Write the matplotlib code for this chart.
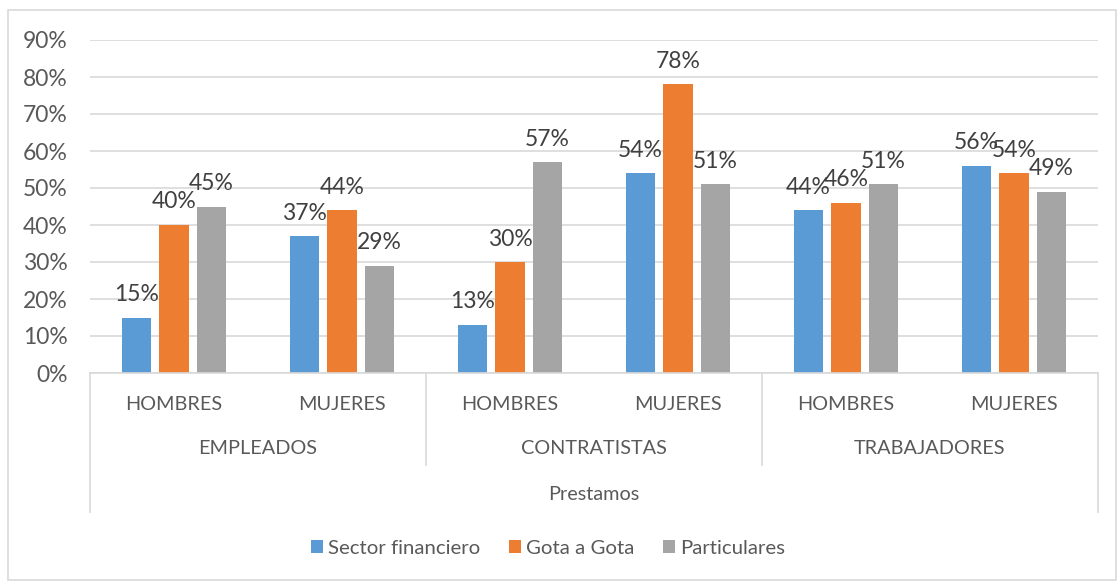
import numpy as np
import matplotlib
matplotlib.use("Agg")
import matplotlib.pyplot as plt
from matplotlib.patches import Rectangle

plt.rcParams['font.family'] = ['Lato', 'DejaVu Sans']

# datos
generos = ["HOMBRES", "MUJERES", "HOMBRES", "MUJERES", "HOMBRES", "MUJERES"]
grupos = ["EMPLEADOS", "CONTRATISTAS", "TRABAJADORES"]
titulo_eje = "Prestamos"
series = ["Sector financiero", "Gota a Gota", "Particulares"]
sector_financiero = [0.15, 0.37, 0.13, 0.54, 0.44, 0.56]
gota_a_gota = [0.40, 0.44, 0.30, 0.78, 0.46, 0.54]
particulares = [0.45, 0.29, 0.57, 0.51, 0.51, 0.49]
yticks = [0, 0.1, 0.2, 0.3, 0.4, 0.5, 0.6, 0.7, 0.8, 0.9]

colores = ["#5B9BD5", "#ED7D31", "#A5A5A5"]
gris_txt = "#595959"
gris_lin = "#D9D9D9"

W, H = 1117, 582
fig = plt.figure(figsize=(W / 100, H / 100), dpi=100)
# plot area en pixeles: x 90..1098, y 40..373
ax = fig.add_axes([90 / W, (H - 373) / H, (1098 - 90) / W, (373 - 40) / H])

x = np.arange(len(generos))
ancho = 0.173
paso = 0.223
valores = [sector_financiero, gota_a_gota, particulares]
for i, vals in enumerate(valores):
    pos = x + (i - 1) * paso
    barras = ax.bar(pos, vals, ancho, color=colores[i], label=series[i], zorder=3)
    for b, v in zip(barras, vals):
        ax.annotate(f"{round(v * 100)}%", (b.get_x() + b.get_width() / 2, v),
                    xytext=(0, 9), textcoords="offset points",
                    ha="center", va="bottom", fontsize=16.5, color="#404040")

ax.set_xlim(-0.5, len(generos) - 0.5)
ax.set_ylim(0, 0.9)
ax.set_yticks(yticks)
ax.set_yticklabels([f"{int(round(t * 100))}%" for t in yticks])
ax.tick_params(axis="y", length=0, pad=16, labelsize=16.5, labelcolor=gris_txt)
ax.set_xticks([])
ax.grid(axis="y", color=gris_lin, linewidth=1.2, zorder=0)
for s in ax.spines.values():
    s.set_visible(False)


def ya(py):
    # pixel vertical -> fraccion de ejes
    return (373 - py) / (373 - 40)


tr = ax.get_xaxis_transform()
ax.plot([-0.5, len(generos) - 0.5], [0, 0], color=gris_lin, lw=1.2, transform=tr, clip_on=False, zorder=4)
for xb in [1.5, 3.5]:
    ax.plot([xb, xb], [0, ya(465)], color=gris_lin, lw=1.2, transform=tr, clip_on=False)
for xb in [-0.5, len(generos) - 0.5]:
    ax.plot([xb, xb], [0, ya(512)], color=gris_lin, lw=1.2, transform=tr, clip_on=False)

for xi, g in zip(x, generos):
    ax.text(xi, ya(404), g, transform=tr, ha="center", va="center", fontsize=14.3, color=gris_txt)
for k, g in enumerate(grupos):
    ax.text(2 * k + 0.5, ya(449), g, transform=tr, ha="center", va="center", fontsize=14.3, color=gris_txt)
ax.text((len(generos) - 1) / 2, ya(495), titulo_eje, transform=tr, ha="center", va="center",
        fontsize=14.3, color=gris_txt)

fig.legend(loc="center", bbox_to_anchor=(548 / W, 1 - 548 / H), ncol=3, frameon=False,
           fontsize=14.7, labelcolor=gris_txt, handlelength=0.6, handleheight=0.6,
           handletextpad=0.25, columnspacing=1.4)

fig.patches.append(Rectangle((8 / W, 2 / H), (W - 9) / W, (H - 12) / H, transform=fig.transFigure,
                             fill=False, edgecolor=gris_lin, linewidth=1.2))

fig.savefig("out.png", dpi=100)
